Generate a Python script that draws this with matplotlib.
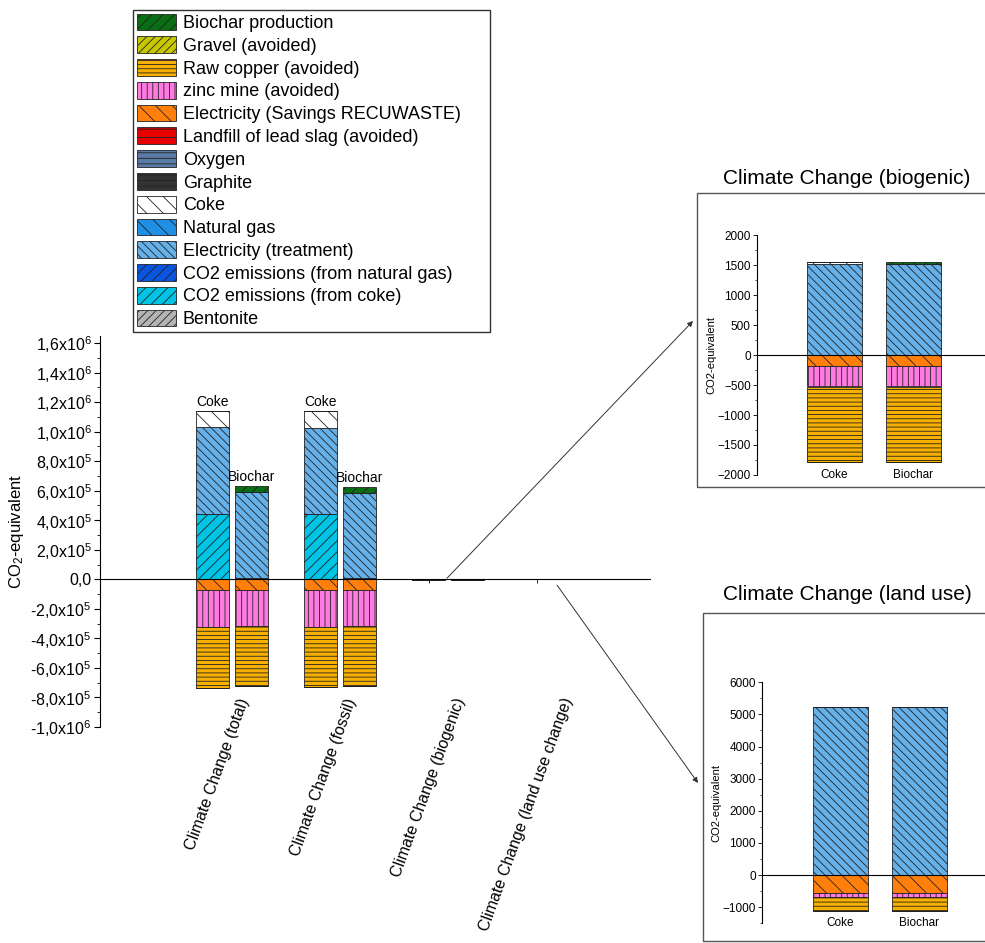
import numpy as np
import matplotlib
matplotlib.use("Agg")
import matplotlib.pyplot as plt
from matplotlib.patches import Patch, Rectangle
from matplotlib.ticker import MultipleLocator, FuncFormatter

plt.rcParams['font.family'] = ['Liberation Sans', 'DejaVu Sans']
plt.rcParams['mathtext.fontset'] = 'custom'
plt.rcParams['mathtext.rm'] = 'Liberation Sans'
plt.rcParams['mathtext.it'] = 'Liberation Sans:italic'
plt.rcParams['hatch.linewidth'] = 0.6

# categories (main chart) and scenarios (two bars per category)
categories = ['Climate Change (total)', 'Climate Change (fossil)',
              'Climate Change (biogenic)', 'Climate Change (land use change)']
scenarios = ['Coke', 'Biochar']

# values per component: [coke scenario, biochar scenario] x 4 categories
co2_coke = [[4.4e5, 4.4e5, 0, 0], [0, 0, 0, 0]]
co2_natgas = [[0, 0, 0, 0], [1.0e4, 1.0e4, 0, 0]]
elec_treatment = [[5.92e5, 5.85e5, 1510, 5220], [5.83e5, 5.72e5, 1510, 5220]]
natural_gas = [[0, 0, 0, 0], [0, 0, 0, 0]]
coke = [[1.1e5, 1.13e5, 40, 0], [0, 0, 0, 0]]
graphite = [[0, 0, 0, 0], [0, 0, 0, 0]]
oxygen = [[0, 0, 0, 0], [0, 0, 0, 0]]
bentonite = [[0, 0, 0, 0], [0, 0, 0, 0]]
biochar_prod = [[0, 0, 0, 0], [4.2e4, 4.5e4, 40, 0]]
elec_savings = [[-7.5e4, -7.0e4, -180, -550], [-7.0e4, -7.0e4, -180, -550]]
zinc_mine = [[-2.5e5, -2.54e5, -345, -125], [-2.45e5, -2.45e5, -345, -125]]
raw_copper = [[-4.08e5, -4.08e5, -1255, -445], [-4.08e5, -4.08e5, -1255, -445]]
landfill = [[0, 0, 0, 0], [0, 0, 0, 0]]
gravel = [[0, 0, 0, 0], [0, 0, 0, 0]]

# (label, data, color, hatch) -- stacking order from zero outwards
positive = [
    ('Bentonite', bentonite, '#b4b4b4', '////'),
    ('CO2 emissions (from coke)', co2_coke, '#00c4e6', '///'),
    ('CO2 emissions (from natural gas)', co2_natgas, '#0a55e0', '///'),
    ('Electricity (treatment)', elec_treatment, '#66b0ea', '\\\\\\\\'),
    ('Natural gas', natural_gas, '#1e90e6', '\\\\'),
    ('Coke', coke, '#ffffff', '\\\\'),
    ('Graphite', graphite, '#333333', '---'),
    ('Oxygen', oxygen, '#5c7aa6', '---'),
    ('Biochar production', biochar_prod, '#0a6e14', '///'),
]
negative = [
    ('Electricity (Savings RECUWASTE)', elec_savings, '#ff7f0a', '\\\\'),
    ('zinc mine (avoided)', zinc_mine, '#ff7ae0', '|||'),
    ('Raw copper (avoided)', raw_copper, '#f7b000', '----'),
    ('Landfill of lead slag (avoided)', landfill, '#e60000', '--'),
    ('Gravel (avoided)', gravel, '#c8c800', '////'),
]
legend_order = ['Biochar production', 'Gravel (avoided)', 'Raw copper (avoided)',
                'zinc mine (avoided)', 'Electricity (Savings RECUWASTE)',
                'Landfill of lead slag (avoided)', 'Oxygen', 'Graphite', 'Coke',
                'Natural gas', 'Electricity (treatment)',
                'CO2 emissions (from natural gas)', 'CO2 emissions (from coke)',
                'Bentonite']


def stacked(ax, centers, cats, width):
    # draws coke / biochar stacks side by side, returns top of positive stack
    tops = []
    for s in range(2):
        for group in (positive, negative):
            base = np.zeros(len(cats))
            for label, data, color, hatch in group:
                vals = np.array([data[s][c] for c in cats], dtype=float)
                ax.bar(centers[s], vals, width, bottom=base, color=color,
                       hatch=hatch, edgecolor='#222222', linewidth=0.6, zorder=2)
                base = base + vals
            if group is positive:
                tops.append(base)
    return tops


fig = plt.figure(figsize=(9.85, 9.43), dpi=100)

# ---- main chart
ax = fig.add_axes([100 / 985, 1 - 727 / 943, 550 / 985, (727 - 335.6) / 943])
xpos = np.arange(4)
tops = stacked(ax, [xpos - 0.18, xpos + 0.18], [0, 1, 2, 3], 0.305)
ax.set_xlim(-1.222, 3.87)
ax.set_ylim(-1.0e6, 1.65e6)
for sp in ['top', 'right']:
    ax.spines[sp].set_visible(False)
ax.spines['bottom'].set_position(('data', 0))
ax.spines['bottom'].set_linewidth(0.8)
ax.set_xticks(xpos - 0.18)
ax.set_xticklabels([])
ax.tick_params(axis='x', length=3, width=0.6)
ax.yaxis.set_major_locator(MultipleLocator(2e5))
ax.yaxis.set_minor_locator(MultipleLocator(1e5))


def sci_fmt(v, pos):
    if abs(v) < 1:
        return '0,0'
    e = int(np.floor(np.log10(abs(v)) + 1e-9))
    m = v / 10 ** e
    return ('%.1f' % m).replace('.', ',') + 'x10$^{%d}$' % e


ax.yaxis.set_major_formatter(FuncFormatter(sci_fmt))
ax.tick_params(axis='y', labelsize=11.5, length=4, width=0.8, pad=2)
ax.tick_params(axis='y', which='minor', length=2.5, width=0.6)
ax.set_ylabel('CO$_2$-equivalent', fontsize=12, labelpad=3)

for i, name in enumerate(categories):
    ax.text(i + 0.18, -0.79e6, name, rotation=70, ha='right', va='top', fontsize=11.5)

for i in range(2):
    ax.text(xpos[i] - 0.18, tops[0][i] + 1.2e4, 'Coke', ha='center', va='bottom', fontsize=10)
    ax.text(xpos[i] + 0.18, tops[1][i] + 1.2e4, 'Biochar', ha='center', va='bottom', fontsize=10)

# legend
lookup = {l: (c, h) for l, d, c, h in positive + negative}
handles = [Patch(facecolor=lookup[l][0], hatch=lookup[l][1], edgecolor='#222222',
                 linewidth=0.6, label=l) for l in legend_order]
leg = fig.legend(handles=handles, loc='upper left',
                 bbox_to_anchor=(133 / 985, 1 - 10 / 943, (490 - 133) / 985, 0.0),
                 mode='expand', fontsize=13,
                 frameon=True, fancybox=False, edgecolor='black',
                 handlelength=2.2, handleheight=1.05, handletextpad=0.35,
                 labelspacing=0.235, borderpad=0.2, borderaxespad=0)
leg.get_frame().set_linewidth(1.0)


def draw_inset(rect, cat, ylim, xlim, major):
    a = fig.add_axes(rect)
    stacked(a, [[0], [1]], [cat], 0.70)
    a.set_xlim(*xlim)
    a.set_ylim(*ylim)
    for sp in ['top', 'right']:
        a.spines[sp].set_visible(False)
    a.spines['bottom'].set_position(('data', 0))
    a.spines['bottom'].set_linewidth(0.8)
    a.set_xticks([])
    for s in range(2):
        a.text(s, 0.0, scenarios[s], transform=a.get_xaxis_transform(),
               ha='center', va='center', fontsize=8.5)
    a.yaxis.set_major_locator(MultipleLocator(major))
    a.yaxis.set_minor_locator(MultipleLocator(major / 2))
    a.tick_params(axis='y', labelsize=8.5, length=3, width=0.6, pad=1.5)
    a.tick_params(axis='y', which='minor', length=1.8, width=0.5)
    a.set_ylabel('CO2-equivalent', fontsize=8, labelpad=1)
    return a


# ---- inset: biogenic
draw_inset([757 / 985, 1 - 475 / 943, (985 - 757) / 985, 240 / 943], 2,
           (-2000, 2000), (-0.98, 1.905), 500)
fig.add_artist(Rectangle((697 / 985, 1 - 487 / 943), 0.4, (487 - 193) / 943,
                         transform=fig.transFigure, fill=False,
                         edgecolor='#555555', linewidth=1.0))
fig.text(723 / 985, 1 - 178 / 943, 'Climate Change (biogenic)', fontsize=15,
         ha='left', va='center')

# ---- inset: land use
draw_inset([762 / 985, 1 - 923.2 / 943, (985 - 762) / 985, (923.2 - 682.3) / 943], 3,
           (-1500, 6000), (-0.994, 1.83), 1000)
fig.add_artist(Rectangle((703 / 985, 1 - 941 / 943), 0.4, (941 - 613) / 943,
                         transform=fig.transFigure, fill=False,
                         edgecolor='#555555', linewidth=1.0))
fig.text(723 / 985, 1 - 595 / 943, 'Climate Change (land use)', fontsize=15,
         ha='left', va='center')

# arrows from the tiny bars to the insets
arrow = dict(arrowstyle='-|>', color='#333333', lw=0.7, shrinkA=0, shrinkB=0,
             mutation_scale=8)
ax.annotate('', xy=(693 / 985, 1 - 321 / 943), xycoords='figure fraction',
            xytext=(1.99, 7e3), textcoords='data', arrowprops=arrow,
            annotation_clip=False)
ax.annotate('', xy=(698 / 985, 1 - 783 / 943), xycoords='figure fraction',
            xytext=(3.01, -4e4), textcoords='data', arrowprops=arrow,
            annotation_clip=False)

fig.savefig('out.png', dpi=100)
